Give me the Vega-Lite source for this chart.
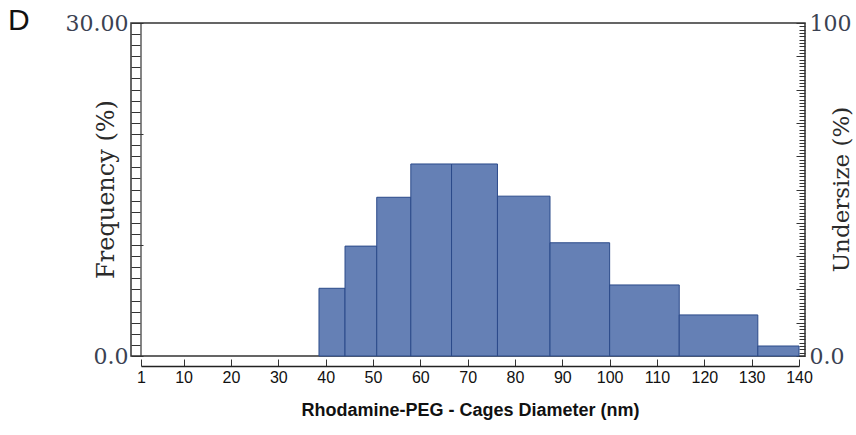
{
  "$schema": "https://vega.github.io/schema/vega-lite/v6.json",
  "width": 674,
  "height": 333,
  "autosize": "none",
  "padding": {"left": 131, "top": 23, "right": 51, "bottom": 79},
  "title": {
    "text": "D",
    "anchor": "start",
    "frame": "group",
    "font": "Liberation Sans",
    "fontSize": 30,
    "fontWeight": "normal",
    "color": "#111111",
    "baseline": "alphabetic",
    "offset": 0,
    "dx": -123,
    "dy": 48
  },
  "config": {
    "view": {"stroke": "#333333", "strokeWidth": 1.5},
    "axis": {"grid": false}
  },
  "data": {
    "values": [
      {"start": 38.6, "end": 44.1, "freq": 6.1},
      {"start": 44.1, "end": 50.8, "freq": 9.9},
      {"start": 50.8, "end": 58.0, "freq": 14.3},
      {"start": 58.0, "end": 66.6, "freq": 17.3},
      {"start": 66.6, "end": 76.3, "freq": 17.3},
      {"start": 76.3, "end": 87.4, "freq": 14.4},
      {"start": 87.4, "end": 100.0, "freq": 10.2},
      {"start": 100.0, "end": 114.7, "freq": 6.4},
      {"start": 114.7, "end": 131.3, "freq": 3.7},
      {"start": 131.3, "end": 140.0, "freq": 0.9}
    ]
  },
  "layer": [
    {
      "mark": {"type": "rect", "fill": "#6580b5", "stroke": "#2b4a8a", "strokeWidth": 1},
      "encoding": {
        "x": {
          "field": "start",
          "type": "quantitative",
          "scale": {"domain": [1, 140], "range": [10, 668], "nice": false, "zero": false},
          "axis": {
            "title": "Rhodamine-PEG - Cages Diameter (nm)",
            "values": [1, 10, 20, 30, 40, 50, 60, 70, 80, 90, 100, 110, 120, 130, 140],
            "offset": 10,
            "domainColor": "#222222",
            "domainWidth": 1.5,
            "tickSize": -7,
            "tickColor": "#333333",
            "labelFont": "Liberation Sans",
            "labelFontSize": 16,
            "labelColor": "#111111",
            "labelPadding": 10,
            "labelFlush": false,
            "labelOverlap": false,
            "titleFont": "Liberation Sans",
            "titleFontSize": 18,
            "titleFontWeight": "bold",
            "titleColor": "#111111",
            "titlePadding": 16
          }
        },
        "x2": {"field": "end"},
        "y": {
          "field": "freq",
          "type": "quantitative",
          "scale": {"domain": [0, 30], "nice": false},
          "axis": {
            "orient": "left",
            "title": "Frequency (%)",
            "titleFont": "DejaVu Serif",
            "titleFontSize": 24,
            "titleFontWeight": "normal",
            "titleColor": "#2a2a2a",
            "titleAngle": 270,
            "titleBaseline": "alphabetic",
            "titleAlign": "center",
            "titleX": -18,
            "titleY": 166,
            "tickCount": 30,
            "tickSize": {"condition": {"test": "datum.value % 10 === 0", "value": -12}, "value": -9},
            "tickColor": "#333333",
            "domain": false,
            "labelExpr": "datum.value == 30 ? '30.00' : (datum.value == 0 ? '0.0' : '')",
            "labelFont": "DejaVu Serif",
            "labelFontSize": 22,
            "labelColor": "#3b4252",
            "labelBaseline": "middle",
            "labelPadding": 15,
            "labelOverlap": false,
            "labelFlush": false,
            "labelBound": false
          }
        },
        "y2": {"datum": 0}
      }
    },
    {
      "data": {"values": [{}]},
      "mark": {"type": "rule", "color": "#333333", "strokeWidth": 1.2},
      "encoding": {
        "x": {"datum": 1, "type": "quantitative"},
        "y": {
          "datum": 0,
          "type": "quantitative",
          "scale": {"domain": [0, 100], "nice": false},
          "axis": {
            "orient": "right",
            "title": "Undersize (%)",
            "titleFont": "DejaVu Serif",
            "titleFontSize": 23,
            "titleFontWeight": "normal",
            "titleColor": "#2a2a2a",
            "titleAngle": 270,
            "titleBaseline": "alphabetic",
            "titleAlign": "center",
            "titleX": 43,
            "titleY": 166,
            "tickCount": 100,
            "tickSize": {"condition": {"test": "datum.value % 10 === 0", "value": -9}, "value": -6},
            "tickColor": "#333333",
            "domain": false,
            "labelExpr": "datum.value == 100 ? '100' : (datum.value == 0 ? '0.0' : '')",
            "labelFont": "DejaVu Serif",
            "labelFontSize": 22,
            "labelColor": "#3b4252",
            "labelBaseline": "middle",
            "labelPadding": 13,
            "labelOverlap": false,
            "labelFlush": false,
            "labelBound": false
          }
        },
        "y2": {"datum": 100}
      }
    }
  ],
  "resolve": {"scale": {"y": "independent"}}
}
